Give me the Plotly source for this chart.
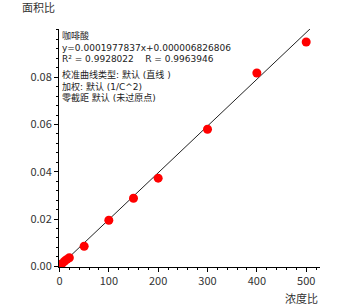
import plotly.graph_objects as go

# data
conc_ratio = [1, 2, 5, 10, 15, 20, 50, 100, 150, 200, 300, 400, 500]
area_ratio = [0.0003, 0.0006, 0.0011, 0.0021, 0.0029, 0.0036, 0.0085, 0.0195, 0.0288, 0.0373, 0.0580, 0.0818, 0.0949]
slope = 0.0001977837
intercept = 0.000006826806
fit_x = [0, 510]
fit_y = [slope * x + intercept for x in fit_x]

x_ticks = [0, 100, 200, 300, 400, 500]
y_ticks = [0.00, 0.02, 0.04, 0.06, 0.08]

info_block1 = [
    "咖啡酸",
    "y=0.0001977837x+0.000006826806",
    "R² = 0.9928022    R = 0.9963946",
]
info_block2 = [
    "校准曲线类型: 默认 (直线 )",
    "加权: 默认 (1/C^2)",
    "零截距 默认 (未过原点)",
]

font_family = "Noto Sans CJK SC, Noto Sans, sans-serif"
info_font = "DejaVu Sans, Noto Sans CJK SC, sans-serif"

fig = go.Figure()
fig.add_trace(go.Scatter(x=fit_x, y=fit_y, mode="lines",
                         line=dict(color="#222222", width=1), hoverinfo="skip"))
fig.add_trace(go.Scatter(x=conc_ratio, y=area_ratio, mode="markers",
                         marker=dict(color="#ff0000", size=9, line=dict(width=0))))

fig.update_layout(
    width=349, height=305,
    margin=dict(l=59, r=29, t=29, b=38),
    paper_bgcolor="white", plot_bgcolor="white",
    showlegend=False,
    font=dict(family=font_family, size=11, color="#333333"),
)
fig.update_xaxes(
    range=[-1, 528], tickvals=x_ticks, ticktext=[str(v) for v in x_ticks],
    showgrid=False, zeroline=False, showline=True, linecolor="#000000", linewidth=1,
    ticks="outside", ticklen=4, tickcolor="#000000",
    minor=dict(ticks="outside", dtick=20, tick0=0, ticklen=2, tickcolor="#000000", showgrid=False),
    tickfont=dict(size=11, color="#333333"),
)
fig.update_yaxes(
    range=[-0.0003, 0.1004], tickvals=y_ticks, ticktext=[f"{v:.2f}" for v in y_ticks],
    showgrid=False, zeroline=False, showline=True, linecolor="#000000", linewidth=1,
    ticks="outside", ticklen=4, tickcolor="#000000",
    minor=dict(ticks="outside", dtick=0.004, tick0=0, ticklen=2, tickcolor="#000000", showgrid=False),
    tickfont=dict(size=11, color="#333333"),
)

fig.add_annotation(text="面积比", xref="paper", yref="paper", x=-0.08, y=1.0, yshift=12,
                   xanchor="center", yanchor="bottom", showarrow=False,
                   font=dict(size=11, color="#333333"))
fig.add_annotation(text="浓度比", xref="paper", yref="paper", x=1.0, y=0, yshift=-21,
                   xanchor="right", yanchor="top", showarrow=False,
                   font=dict(size=11, color="#333333"))
for block, shift in ((info_block1, 1), (info_block2, -38)):
    fig.add_annotation(text="<br>".join(block), xref="paper", yref="paper",
                       x=0, y=1.0, xshift=1, yshift=shift, xanchor="left", yanchor="top",
                       align="left", showarrow=False,
                       font=dict(family=info_font, size=9, color="#222222"))

fig.write_html("out.html")
